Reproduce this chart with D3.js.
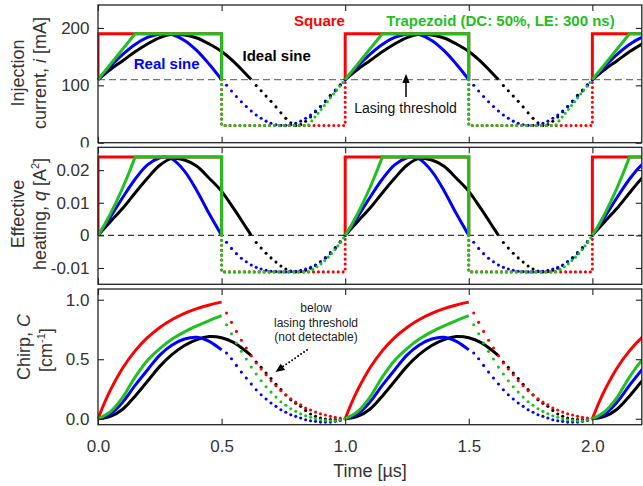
<!DOCTYPE html>
<html><head><meta charset="utf-8">
<script src="https://cdn.jsdelivr.net/npm/d3@7/dist/d3.min.js"></script>
<style>
body{margin:0;background:#fff;}
svg text{font-family:"Liberation Sans",Arial,sans-serif;}
</style></head>
<body><svg id="chart" width="643" height="486"></svg>
<script>
// ================= DATA (one modulation period, repeated each microsecond) =================
const periods = [0, 1, 2];
const xTicks = [0, 0.5, 1.0, 1.5, 2.0];
const currentTicks = [0, 100, 200];
const heatTicks = [-0.01, 0, 0.01, 0.02];
const chirpTicks = [0, 0.5, 1.0];
const currentThreshold = 110;   // mA
const heatThreshold = 0;        // A^2

// ---- Injection current i [mA]: [time µs, value]
const squareCurSolid = [[0,110],[0,190],[0.5,190],[0.5,110]];
const squareCurDot   = [[0.5,110],[0.5,30],[1,30],[1,110]];
const trapCurSolid   = [[0,110],[0.15,190],[0.5,190],[0.5,110]];
const trapCurDot     = [[0.5,110],[0.5,30],[0.85,30],[1,110]];
const realCurSolid   = [[0,110],[0.05,133],[0.1,153.9],[0.15,171.3],[0.2,183.5],[0.25,189.5],[0.27,190],[0.3,188.3],[0.35,178.3],[0.4,160.5],[0.45,136.8],[0.5,110]];
const realCurDot     = [[0.5,110],[0.52,100],[0.54,90.1],[0.56,80.6],[0.58,71.5],[0.6,63],[0.62,55.2],[0.64,48.4],[0.66,42.5],[0.68,37.6],[0.7,33.9],[0.72,31.4],[0.74,30.2],[0.76,30.2],[0.78,31.4],[0.8,33.9],[0.82,37.6],[0.84,42.5],[0.86,48.4],[0.88,55.2],[0.9,63],[0.92,71.5],[0.94,80.6],[0.96,90.1],[0.98,100],[1,110]];
const idealCurSolid  = [[0,110],[0.05,127.7],[0.1,142.8],[0.15,158.4],[0.2,172],[0.25,183.3],[0.3,188.9],[0.35,187.6],[0.4,182.5],[0.45,172],[0.5,159],[0.55,141],[0.6,119],[0.62,110]];
const idealCurDot    = [[0.62,110],[0.64,99.5],[0.66,90.6],[0.68,81.2],[0.7,72.1],[0.72,62.4],[0.74,52],[0.76,42.4],[0.78,34.6],[0.8,30],[0.82,31.6],[0.84,37.4],[0.86,44.7],[0.88,53.9],[0.9,63.2],[0.92,72.8],[0.94,82.5],[0.96,91.7],[0.98,101],[1,110]];

// ---- Effective heating q [A^2]
const squareHeatSolid = [[0,0],[0,0.024],[0.5,0.024],[0.5,0]];
const squareHeatDot   = [[0.5,0],[0.5,-0.0112],[1,-0.0112],[1,0]];
const trapHeatSolid   = [[0,0],[0.025,0.0031],[0.05,0.0066],[0.075,0.0104],[0.1,0.0146],[0.125,0.0191],[0.15,0.024],[0.5,0.024],[0.5,0]];
const trapHeatDot     = [[0.5,0],[0.5,-0.0112],[0.85,-0.0112],[0.875,-0.0102],[0.9,-0.0089],[0.925,-0.0072],[0.95,-0.0052],[0.975,-0.0028],[1,0]];
const realHeatSolid   = [[0,0],[0.05,0.0056],[0.1,0.0116],[0.15,0.0172],[0.2,0.0216],[0.25,0.0238],[0.27,0.024],[0.3,0.0234],[0.35,0.0197],[0.4,0.0137],[0.45,0.0066],[0.5,0]];
const realHeatDot     = [[0.5,0],[0.52,-0.0021],[0.54,-0.004],[0.56,-0.0056],[0.58,-0.007],[0.6,-0.0081],[0.62,-0.0091],[0.64,-0.0098],[0.66,-0.0103],[0.68,-0.0107],[0.7,-0.011],[0.72,-0.0111],[0.74,-0.0112],[0.76,-0.0112],[0.78,-0.0111],[0.8,-0.011],[0.82,-0.0107],[0.84,-0.0103],[0.86,-0.0098],[0.88,-0.0091],[0.9,-0.0081],[0.92,-0.007],[0.94,-0.0056],[0.96,-0.004],[0.98,-0.0021],[1,0]];
const idealHeatSolid  = [[0,0],[0.05,0.0042],[0.1,0.0083],[0.15,0.013],[0.2,0.0175],[0.25,0.0215],[0.3,0.0236],[0.35,0.0231],[0.4,0.0212],[0.45,0.0175],[0.5,0.0135],[0.55,0.0081],[0.6,0.0023],[0.62,0]];
const idealHeatDot    = [[0.62,0],[0.64,-0.0022],[0.66,-0.0039],[0.68,-0.0055],[0.7,-0.0069],[0.72,-0.0082],[0.74,-0.0094],[0.76,-0.0103],[0.78,-0.0109],[0.8,-0.0112],[0.82,-0.0111],[0.84,-0.0107],[0.86,-0.0101],[0.88,-0.0092],[0.9,-0.0081],[0.92,-0.0068],[0.94,-0.0053],[0.96,-0.0037],[0.98,-0.0019],[1,0]];

// ---- Chirp C [cm^-1]
const squareChirpSolid = [[0,0],[0.025,0.128],[0.05,0.24],[0.1,0.426],[0.15,0.57],[0.2,0.681],[0.25,0.767],[0.3,0.834],[0.35,0.886],[0.4,0.925],[0.45,0.956],[0.5,0.98]];
const squareChirpDot   = [[0.5,0.978],[0.52,0.888],[0.54,0.81],[0.56,0.734],[0.58,0.659],[0.6,0.594],[0.62,0.529],[0.64,0.468],[0.66,0.418],[0.68,0.37],[0.7,0.319],[0.72,0.277],[0.74,0.235],[0.76,0.202],[0.78,0.168],[0.8,0.14],[0.82,0.118],[0.84,0.09],[0.86,0.073],[0.88,0.056],[0.9,0.042],[0.92,0.031],[0.94,0.02],[0.96,0.012],[0.98,0.006],[1,0]];
const trapChirpSolid   = [[0,0],[0.05,0.06],[0.1,0.18],[0.15,0.35],[0.2,0.49],[0.25,0.59],[0.3,0.67],[0.35,0.73],[0.4,0.78],[0.45,0.825],[0.5,0.866]];
const trapChirpDot     = [[0.5,0.866],[0.52,0.79],[0.54,0.714],[0.56,0.636],[0.58,0.566],[0.6,0.502],[0.62,0.434],[0.64,0.376],[0.66,0.319],[0.68,0.269],[0.7,0.224],[0.72,0.182],[0.74,0.143],[0.76,0.113],[0.78,0.084],[0.8,0.062],[0.82,0.042],[0.84,0.025],[0.86,0.012],[0.88,0],[0.9,-0.008],[0.92,-0.013],[0.94,-0.017],[0.96,-0.017],[0.98,-0.01],[1,0]];
const realChirpSolid   = [[0,0],[0.05,0.04],[0.1,0.14],[0.15,0.28],[0.2,0.41],[0.25,0.535],[0.3,0.62],[0.35,0.67],[0.4,0.685],[0.45,0.65],[0.5,0.578]];
const realChirpDot     = [[0.5,0.578],[0.52,0.552],[0.54,0.504],[0.56,0.448],[0.58,0.392],[0.6,0.342],[0.62,0.292],[0.64,0.244],[0.66,0.202],[0.68,0.166],[0.7,0.132],[0.72,0.104],[0.74,0.076],[0.76,0.054],[0.78,0.034],[0.8,0.02],[0.82,0.006],[0.84,-0.008],[0.86,-0.017],[0.88,-0.022],[0.9,-0.028],[0.92,-0.028],[0.94,-0.028],[0.96,-0.022],[0.98,-0.014],[1,0]];
const idealChirpSolid  = [[0,0],[0.05,0.02],[0.1,0.08],[0.15,0.19],[0.2,0.315],[0.25,0.44],[0.3,0.54],[0.35,0.615],[0.4,0.665],[0.45,0.69],[0.5,0.68],[0.55,0.64],[0.6,0.565],[0.62,0.53]];
const idealChirpDot    = [[0.62,0.53],[0.64,0.476],[0.66,0.432],[0.68,0.384],[0.7,0.338],[0.72,0.29],[0.74,0.245],[0.76,0.2],[0.78,0.16],[0.8,0.13],[0.82,0.104],[0.84,0.07],[0.86,0.04],[0.88,0.02],[0.9,0.006],[0.92,-0.003],[0.94,-0.006],[0.96,-0.006],[0.98,-0.004],[1,0]];

// ================= DRAWING =================
const RED = "#ff0000", GREEN = "#1fc01f", BLUE = "#0000ff", BLACK = "#000000";
const svg = d3.select("#chart");
const X0 = 98, X1 = 641.8;
const x = d3.scaleLinear().domain([0, 2.2]).range([X0, X1]);

const panels = [
  { y0: 5, y1: 142.7, domain: [0, 240], ticks: currentTicks, fmt: d3.format("d"), thr: currentThreshold,
    thrStyle: { color: "#777", dash: "7,4", w: 1.4 },
    series: [
      { solid: idealCurSolid, dot: idealCurDot, color: BLACK, smooth: true },
      { solid: realCurSolid, dot: realCurDot, color: BLUE, smooth: true },
      { solid: squareCurSolid, dot: squareCurDot, color: RED, smooth: false },
      { solid: trapCurSolid, dot: trapCurDot, color: GREEN, smooth: false }
    ] },
  { y0: 147.3, y1: 284.3, domain: [-0.015, 0.027], ticks: heatTicks, fmt: v => v === 0 ? "0" : (v < 0 ? "-" : "") + Math.abs(v).toFixed(2), thr: heatThreshold,
    thrStyle: { color: "#333", dash: "6,4", w: 1.1 },
    series: [
      { solid: idealHeatSolid, dot: idealHeatDot, color: BLACK, smooth: true },
      { solid: realHeatSolid, dot: realHeatDot, color: BLUE, smooth: true },
      { solid: squareHeatSolid, dot: squareHeatDot, color: RED, smooth: false },
      { solid: trapHeatSolid, dot: trapHeatDot, color: GREEN, smooth: false }
    ] },
  { y0: 289, y1: 424.7, domain: [-0.05, 1.09], ticks: chirpTicks, fmt: d3.format(".1f"), thr: null,
    series: [
      { solid: idealChirpSolid, dot: idealChirpDot, color: BLACK, smooth: true, markers: true },
      { solid: realChirpSolid, dot: realChirpDot, color: BLUE, smooth: true, markers: true },
      { solid: squareChirpSolid, dot: squareChirpDot, color: RED, smooth: true, markers: true },
      { solid: trapChirpSolid, dot: trapChirpDot, color: GREEN, smooth: true, markers: true }
    ] }
];
// curved dotted series in upper panels are drawn as markers too
panels[0].series[0].markers = true; panels[0].series[1].markers = true;
panels[1].series[0].markers = true; panels[1].series[1].markers = true;

const defs = svg.append("defs");

panels.forEach((P, pi) => {
  const y = d3.scaleLinear().domain(P.domain).range([P.y1, P.y0]);
  // white background (covers label overflow of the panel above)
  svg.append("rect").attr("x", 0).attr("y", P.y0).attr("width", 643).attr("height", P.y1 - P.y0).attr("fill", "#fff");

  defs.append("clipPath").attr("id", "clip" + pi)
    .append("rect").attr("x", X0 - 0.5).attr("y", P.y0).attr("width", X1 - X0 + 0.5).attr("height", P.y1 - P.y0);

  const g = svg.append("g").attr("clip-path", `url(#clip${pi})`);

  if (P.thr !== null) {
    g.append("line").attr("x1", X0).attr("x2", X1).attr("y1", y(P.thr)).attr("y2", y(P.thr))
      .attr("stroke", P.thrStyle.color).attr("stroke-width", P.thrStyle.w).attr("stroke-dasharray", P.thrStyle.dash);
  }

  P.series.forEach(S => {
    const line = d3.line().x(d => x(d[0])).y(d => y(d[1]))
      .curve(S.smooth ? d3.curveCatmullRom.alpha(0.5) : d3.curveLinear);
    periods.forEach(p => {
      const sol = S.solid.map(d => [d[0] + p, d[1]]);
      const dot = S.dot.map(d => [d[0] + p, d[1]]);
      if (S.markers) {
        g.selectAll(null).data(dot.slice(1)).enter().append("circle")
          .attr("cx", d => x(d[0])).attr("cy", d => y(d[1])).attr("r", 1.55).attr("fill", S.color);
      } else {
        g.append("path").attr("d", line(dot)).attr("fill", "none").attr("stroke", S.color)
          .attr("stroke-width", 3.1).attr("stroke-linecap", "round").attr("stroke-dasharray", "0 4.94");
      }
      g.append("path").attr("d", line(sol)).attr("fill", "none").attr("stroke", S.color)
        .attr("stroke-width", 3).attr("stroke-linejoin", "miter");
    });
  });

  // axes: ticks inward on all sides
  const left = d3.axisLeft(y).tickValues(P.ticks).tickFormat(P.fmt).tickSizeInner(-6).tickSizeOuter(0).tickPadding(8.5);
  const right = d3.axisRight(y).tickValues(P.ticks).tickFormat("").tickSizeInner(-6).tickSizeOuter(0);
  const top = d3.axisTop(x).tickValues(xTicks).tickFormat("").tickSizeInner(-6).tickSizeOuter(0);
  const bottom = d3.axisBottom(x).tickValues(xTicks).tickFormat(pi === 2 ? d3.format(".1f") : "").tickSizeInner(-6).tickSizeOuter(0).tickPadding(15);
  const styleAxis = sel => {
    sel.select(".domain").remove();
    sel.selectAll("line").attr("stroke", "#222").attr("stroke-width", 1.1);
    sel.selectAll("text").attr("font-size", 17).attr("fill", "#333").attr("font-family", "Liberation Sans, Arial, sans-serif");
  };
  svg.append("g").attr("transform", `translate(${X0},0)`).call(left).call(styleAxis);
  svg.append("g").attr("transform", `translate(${X1},0)`).call(right).call(styleAxis);
  svg.append("g").attr("transform", `translate(0,${P.y0})`).call(top).call(styleAxis);
  svg.append("g").attr("transform", `translate(0,${P.y1})`).call(bottom).call(styleAxis);

  svg.append("rect").attr("x", X0).attr("y", P.y0).attr("width", X1 - X0).attr("height", P.y1 - P.y0)
    .attr("fill", "none").attr("stroke", "#222").attr("stroke-width", 1.3);
});

// ---- axis titles
function yTitle(cx, cy, build) {
  const t = svg.append("text").attr("transform", `translate(${cx},${cy}) rotate(-90)`)
    .attr("text-anchor", "middle").attr("font-size", 18).attr("fill", "#333");
  build(t);
}
yTitle(23.5, 73, t => t.text("Injection"));
yTitle(45.5, 73, t => { t.append("tspan").text("current, "); t.append("tspan").attr("font-style", "italic").text("i"); t.append("tspan").text(" [mA]"); });
yTitle(23.5, 214, t => t.text("Effective"));
yTitle(45.5, 214, t => { t.append("tspan").text("heating, "); t.append("tspan").attr("font-style", "italic").text("q"); t.append("tspan").text(" [A");
  t.append("tspan").attr("font-size", 11).attr("dy", -7).text("2"); t.append("tspan").attr("dy", 7).text("]"); });
yTitle(29.5, 347, t => { t.append("tspan").text("Chirp, "); t.append("tspan").attr("font-style", "italic").text("C"); });
yTitle(51.5, 350, t => { t.append("tspan").text("[cm"); t.append("tspan").attr("font-size", 11).attr("dy", -7).text("-1"); t.append("tspan").attr("dy", 7).text("]"); });

svg.append("text").attr("x", 370).attr("y", 477).attr("text-anchor", "middle").attr("font-size", 18).attr("fill", "#333").text("Time [µs]");

// ---- annotations
const ann = (txt, cx, by, col, size, weight) => svg.append("text").attr("x", cx).attr("y", by).attr("text-anchor", "middle")
  .attr("font-size", size).attr("font-weight", weight).attr("fill", col).text(txt);
ann("Square", 319.5, 25.5, RED, 15, "bold");
ann("Trapezoid (DC: 50%, LE: 300 ns)", 500.5, 25.5, GREEN, 15, "bold");
ann("Ideal sine", 276.7, 61, BLACK, 15, "bold");
ann("Real sine", 166.7, 68.5, BLUE, 15, "bold");
ann("Lasing threshold", 405.5, 113, "#111", 14, "normal");
ann("below", 316, 312, "#222", 12, "normal");
ann("lasing threshold", 316, 326.5, "#222", 12, "normal");
ann("(not detectable)", 316, 341, "#222", 12, "normal");

// arrow to the lasing threshold
svg.append("line").attr("x1", 406).attr("y1", 97).attr("x2", 406).attr("y2", 80).attr("stroke", "#000").attr("stroke-width", 1.5);
svg.append("path").attr("d", "M406,74 L402.3,83 L409.7,83 Z").attr("fill", "#000");
// dotted arrow in chirp panel
svg.append("line").attr("x1", 307).attr("y1", 350).attr("x2", 283).attr("y2", 366.5).attr("stroke", "#000")
  .attr("stroke-width", 2).attr("stroke-linecap", "round").attr("stroke-dasharray", "0 3.6");
(function () {
  const tip = [275.5, 372], ang = Math.atan2(350 - 372, 307 - 275.5), L = 9, W = 3.8;
  const bx = tip[0] + L * Math.cos(ang), by = tip[1] + L * Math.sin(ang);
  const px = -Math.sin(ang) * W, py = Math.cos(ang) * W;
  svg.append("path").attr("d", `M${tip[0]},${tip[1]} L${bx + px},${by + py} L${bx - px},${by - py} Z`).attr("fill", "#000");
})();
</script></body></html>
